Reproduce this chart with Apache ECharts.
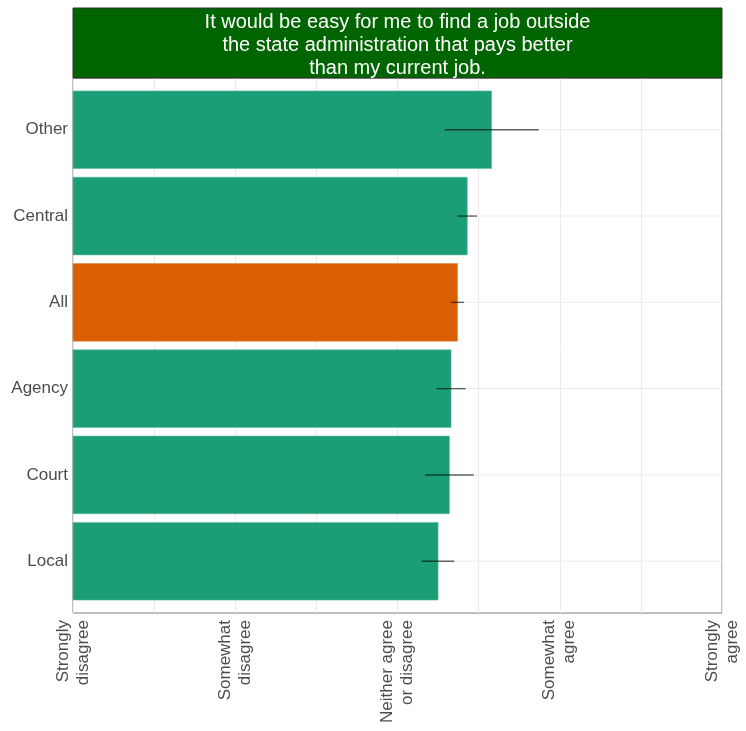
<!DOCTYPE html>
<html>
<head>
<meta charset="utf-8">
<script src="https://cdn.jsdelivr.net/npm/echarts@6/dist/echarts.min.js"></script>
<style>html,body{margin:0;padding:0;background:#fff}#c{width:746px;height:731px}</style>
</head>
<body>
<div id="c"></div>
<script>
const categories = ['Other', 'Central', 'All', 'Agency', 'Court', 'Local'];
const means = [3.58, 3.43, 3.37, 3.33, 3.32, 3.25];
const lower = [3.29, 3.37, 3.33, 3.24, 3.17, 3.15];
const upper = [3.87, 3.49, 3.41, 3.42, 3.47, 3.35];
const highlight = 'All';
const tickValues = [1, 2, 3, 4, 5];
const tickLabels = ['Strongly\ndisagree', 'Somewhat\ndisagree', 'Neither agree\nor disagree', 'Somewhat\nagree', 'Strongly\nagree'];
const titleLines = ['It would be easy for me to find a job outside', 'the state administration that pays better', 'than my current job.'];

const FONT = '"Liberation Sans", Arial, sans-serif';
const chart = echarts.init(document.getElementById('c'), null, {renderer: 'canvas'});

const rows = categories.map((c, i) => [means[i], i, lower[i], upper[i], c]);

const option = {
  animation: false,
  grid: {left: 73, right: 24, top: 78, bottom: 118, show: true, borderColor: '#7f7f7f', borderWidth: 1, backgroundColor: 'transparent'},
  xAxis: {
    type: 'value', min: 1, max: 5, interval: 0.5,
    axisLine: {show: false},
    axisTick: {show: false},
    splitLine: {show: true, lineStyle: {color: '#ebebeb', width: 1}},
    axisLabel: {
      rotate: 90, margin: 7, fontSize: 17, color: '#4d4d4d', fontFamily: FONT, lineHeight: 20,
      showMinLabel: true, showMaxLabel: true, hideOverlap: false,
      formatter: v => { const k = tickValues.indexOf(v); return k >= 0 ? tickLabels[k] : ''; }
    }
  },
  yAxis: {
    type: 'value', inverse: true, min: -0.6, max: 5.6,
    axisLine: {show: false},
    axisTick: {show: false},
    splitLine: {show: false},
    axisLabel: {
      customValues: categories.map((c, i) => i), margin: 5, fontSize: 17, color: '#4d4d4d', fontFamily: FONT,
      formatter: v => categories[Math.round(v)] || ''
    }
  },
  series: [
    {
      type: 'custom', z: 1, silent: true,
      data: rows,
      renderItem: (params, api) => {
        const i = api.value(1);
        const a = api.coord([1, i]);
        const b = api.coord([5, i]);
        return {type: 'line', shape: {x1: a[0], y1: a[1], x2: b[0], y2: b[1]}, style: {stroke: '#ebebeb', lineWidth: 1}};
      }
    },
    {
      type: 'custom', z: 2,
      data: rows,
      renderItem: (params, api) => {
        const v = api.value(0), i = api.value(1);
        const p0 = api.coord([1, i - 0.45]);
        const p1 = api.coord([v, i + 0.45]);
        const isHi = categories[params.dataIndex] === highlight;
        return {type: 'rect', shape: {x: p0[0], y: p0[1], width: p1[0] - p0[0], height: p1[1] - p0[1]},
          style: {fill: isHi ? '#d95f02' : '#1b9e77', stroke: isHi ? '#e58a4a' : '#5cbb9c', lineWidth: 0.6}};
      }
    },
    {
      type: 'custom', z: 3,
      data: rows,
      renderItem: (params, api) => {
        const i = api.value(1);
        const a = api.coord([api.value(2), i]);
        const b = api.coord([api.value(3), i]);
        return {type: 'line', shape: {x1: a[0], y1: a[1], x2: b[0], y2: b[1]}, style: {stroke: 'rgba(0,0,0,0.6)', lineWidth: 1.4}};
      }
    }
  ],
  graphic: [
    {type: 'rect', z: 10, shape: {x: 73, y: 8, width: 649, height: 70}, style: {fill: '#006400', stroke: '#333333', lineWidth: 1}},
    {type: 'text', z: 11, x: 397.5, y: 45, style: {text: titleLines.join('\n'), fill: '#ffffff', font: '20px ' + FONT, align: 'center', verticalAlign: 'middle', lineHeight: 23}}
  ]
};
chart.setOption(option);
</script>
</body>
</html>
